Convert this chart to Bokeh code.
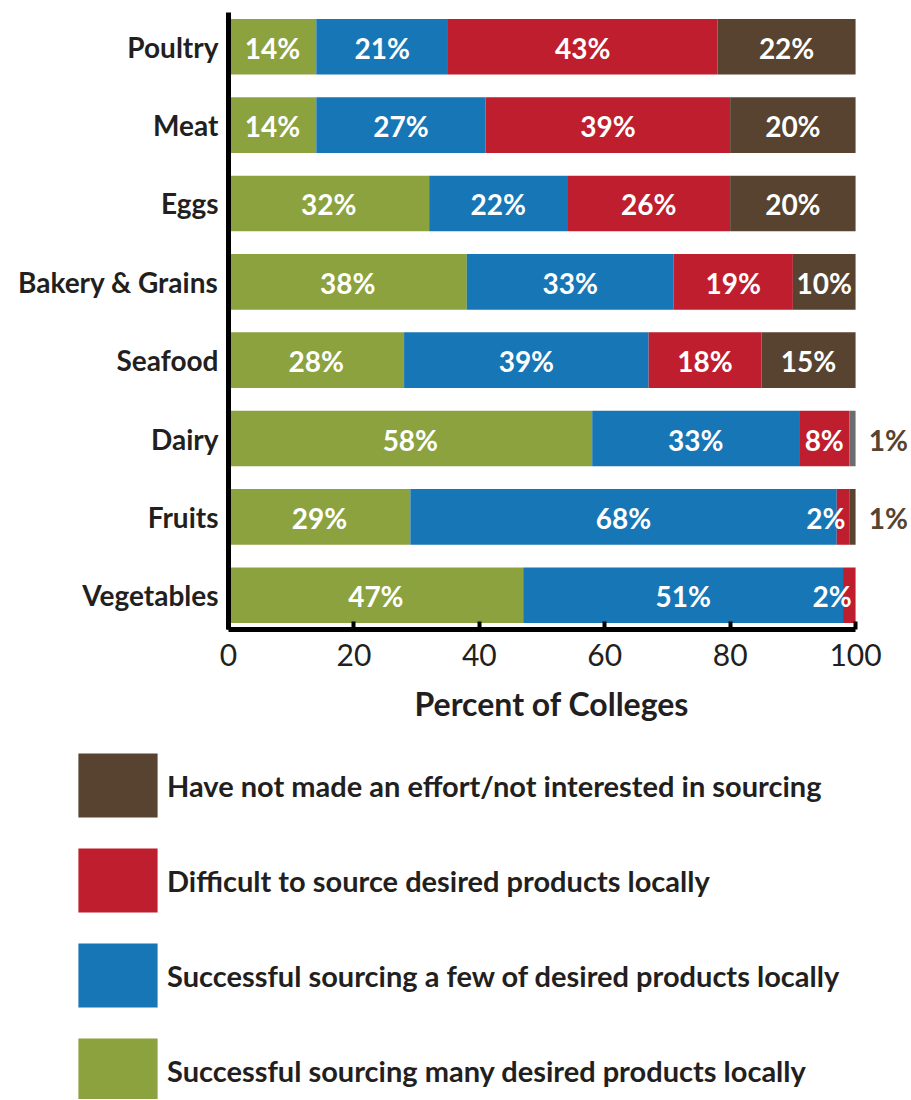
from bokeh.plotting import figure
from bokeh.models import (ColumnDataSource, FactorRange, Legend, LegendItem, FixedTicker,
                          LabelSet, Title)
from bokeh.core.properties import value
from bokeh.embed import file_html
from bokeh.resources import INLINE

categories = ["Poultry", "Meat", "Eggs", "Bakery & Grains", "Seafood", "Dairy", "Fruits", "Vegetables"]
many = [14, 14, 32, 38, 28, 58, 29, 47]
few = [21, 27, 22, 33, 39, 33, 68, 51]
difficult = [43, 39, 26, 19, 18, 8, 2, 2]
no_effort = [22, 20, 20, 10, 15, 1, 1, 0]
series_names = [
    "Successful sourcing many desired products locally",
    "Successful sourcing a few of desired products locally",
    "Difficult to source desired products locally",
    "Have not made an effort/not interested in sourcing",
]
colors = ["#8ca23f", "#1776b5", "#be1e2d", "#574330"]
# the thin Dairy sliver shows grey in the original
no_effort_bar_colors = ["#574330"] * 5 + ["#6b6d70"] + ["#574330"] * 2
x_ticks = [0, 20, 40, 60, 80, 100]
x_title = "Percent of Colleges"

FONT = "Lato"
TEXT = "#231f20"
fields = ["many", "few", "difficult", "no_effort"]
series = [many, few, difficult, no_effort]

source = ColumnDataSource(dict(cat=categories, many=many, few=few,
                               difficult=difficult, no_effort=no_effort,
                               ne_color=no_effort_bar_colors))

p = figure(frame_width=681, frame_height=617,
           y_range=FactorRange(factors=categories[::-1], range_padding=-0.063,
                               range_padding_units="absolute"),
           x_range=(0, 108.6),
           min_border_left=228, min_border_right=2, min_border_top=12, min_border_bottom=110,
           output_backend="svg", toolbar_location=None)

renderers = p.hbar_stack(fields, y="cat", height=0.71,
                         color=colors[:3] + ["ne_color"], source=source, line_width=0)

# value labels, positioned from the stacked data
groups = {"left": [], "right": [], "center": []}
for i, c in enumerate(categories):
    cum = 0
    for s, vals in enumerate(series):
        v = vals[i]
        if v <= 0:
            continue
        if v < 2:
            groups["left"].append((cum + v + 2.1, c, f"{v}%", colors[3]))
        elif v < 3:
            groups["right"].append((cum + v - 0.6, c, f"{v}%", "white"))
        else:
            groups["center"].append((cum + v / 2, c, f"{v}%", "white"))
        cum += v

for al, rows in groups.items():
    sub = ColumnDataSource(dict(x=[r[0] for r in rows], y=[r[1] for r in rows],
                                t=[r[2] for r in rows], color=[r[3] for r in rows]))
    p.add_layout(LabelSet(x="x", y="y", text="t", source=sub, text_align=al,
                          text_baseline="middle", text_color="color",
                          text_font=value(FONT), text_font_style="bold",
                          text_font_size="28px", y_offset=-1))

p.xgrid.visible = False
p.ygrid.visible = False
p.outline_line_color = None

p.xaxis.bounds = (0, 100)
p.xaxis.ticker = FixedTicker(ticks=x_ticks)
p.xaxis.axis_line_width = 5
p.xaxis.axis_line_color = "black"
p.xaxis.major_tick_in = 8
p.xaxis.major_tick_out = 0
p.xaxis.major_tick_line_width = 4
p.xaxis.minor_tick_line_color = None
p.xaxis.major_label_text_font = FONT
p.xaxis.major_label_text_font_size = "30px"
p.xaxis.major_label_text_color = TEXT
p.xaxis.major_label_standoff = 14

p.add_layout(Title(text=x_title, align="left", offset=186, standoff=27,
                   text_font=FONT, text_font_style="bold", text_font_size="32px",
                   text_color=TEXT), "below")

p.yaxis.axis_line_width = 5
p.yaxis.axis_line_color = "black"
p.yaxis.major_tick_line_color = None
p.yaxis.minor_tick_line_color = None
p.yaxis.major_label_text_font = FONT
p.yaxis.major_label_text_font_style = "bold"
p.yaxis.major_label_text_font_size = "28px"
p.yaxis.major_label_text_color = TEXT
p.yaxis.major_label_standoff = 4

# legend lives in its own panel below the chart
lf = figure(width=911, height=360, x_range=(0, 100),
            y_range=FactorRange(factors=categories[::-1]),
            x_axis_location=None, y_axis_location=None,
            min_border_left=0, min_border_right=0,
            min_border_top=0, min_border_bottom=0,
            output_backend="svg", toolbar_location=None)
lf.grid.visible = False
lf.outline_line_color = None
swatches = lf.hbar_stack(fields, y="cat", height=0.71, color=colors, source=source,
                         line_width=0)
for r in swatches:
    r.visible = False
items = [LegendItem(label=series_names[k], renderers=[swatches[k]]) for k in [3, 2, 1, 0]]
legend = Legend(items=items, location=(68, -11), orientation="vertical",
                glyph_width=99, glyph_height=80, spacing=15, label_standoff=0,
                label_text_font=FONT, label_text_font_style="bold",
                label_text_font_size="29px", label_text_color=TEXT,
                label_text_baseline="middle",
                inactive_fill_alpha=0,
                border_line_color=None, background_fill_alpha=0, padding=0, margin=0)
lf.add_layout(legend, "center")

open("out.html", "w").write(file_html([p, lf], INLINE))
